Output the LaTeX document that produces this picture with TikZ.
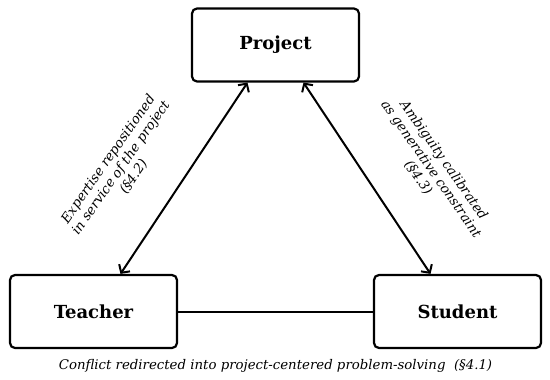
\documentclass[tikz,border=0pt]{standalone}
\usepackage{fontspec}
\setmainfont{DejaVu Serif}
\usepackage{tikz}
\usetikzlibrary{arrows.meta, positioning, calc}

\begin{document}
\begin{tikzpicture}[x=1pt, y=-1pt,
  rolebox/.style={draw, line width=2.2pt, rounded corners=5pt, minimum width=167pt, minimum height=73pt, font=\fontsize{18}{20}\selectfont\bfseries},
  link/.style={line width=2pt, {Straight Barb[length=6pt,width=13pt]}-{Straight Barb[length=6pt,width=13pt]}},
  note/.style={font=\fontsize{13.3}{15.5}\selectfont\itshape, align=center}]
  \useasboundingbox (0,0) rectangle (550,380);

  % Boxes
  \node[rolebox] (project) at (275.5, 45) {Project};
  \node[rolebox] (teacher) at (93.5, 311.5) {Teacher};
  \node[rolebox] (student) at (457.5, 311.5) {Student};

  % Links
  \draw[link] ([xshift=27pt]teacher.north) -- ([xshift=-28pt]project.south);
  \draw[link] ([xshift=28pt]project.south) -- ([xshift=-27pt]student.north);
  \draw[line width=2pt] (teacher) -- (student);

  % Labels
  \node[note, rotate=55] (expertise) at (121, 168) {Expertise repositioned\\in service of the project\\(§4.2)};
  \node[note, rotate=-55] (ambiguity) at (431, 169) {Ambiguity calibrated\\as generative constraint\\(§4.3)};
  \node[note] (conflict) at (275.5, 366) {Conflict redirected into project-centered problem-solving~~(§4.1)};
\end{tikzpicture}
\end{document}
